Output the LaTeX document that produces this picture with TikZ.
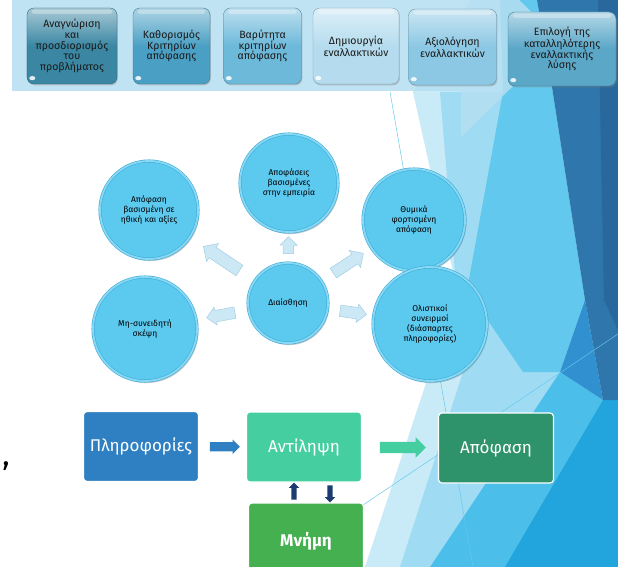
\documentclass[tikz,border=0pt]{standalone}
\usepackage{fontspec}
\setmainfont{Fira Sans}
\usetikzlibrary{shapes.arrows,shadows,calc}

\definecolor{fctlight}{HTML}{C9EBF8}
\definecolor{fctmid}{HTML}{9FDBF2}
\definecolor{fctcyan}{HTML}{62C8ED}
\definecolor{fctcyanb}{HTML}{4BBFE9}
\definecolor{fctbright}{HTML}{22A5DD}
\definecolor{fctblue}{HTML}{3190CF}
\definecolor{fctdark}{HTML}{2E76AB}
\definecolor{fctdarker}{HTML}{28689C}
\definecolor{bannerblue}{HTML}{B5DFF1}
\definecolor{stepA}{HTML}{3B87A3}
\definecolor{stepB}{HTML}{4AA0C4}
\definecolor{stepC}{HTML}{6CB9DA}
\definecolor{stepD}{HTML}{B5DCEE}
\definecolor{stepE}{HTML}{8CC8E4}
\definecolor{stepF}{HTML}{5AA7C8}
\definecolor{discfill}{HTML}{5CC9EF}
\definecolor{discring}{HTML}{88D8F3}
\definecolor{discedge}{HTML}{3FADD9}
\definecolor{arrowfill}{HTML}{CCE8F5}
\definecolor{arrowedge}{HTML}{9FCDE4}
\definecolor{infoblue}{HTML}{2F80C2}
\definecolor{percgreen}{HTML}{45CFA1}
\definecolor{decgreen}{HTML}{2E936B}
\definecolor{memgreen}{HTML}{45B04F}
\definecolor{memnavy}{HTML}{1C3B6E}

\tikzset{
  facetline/.style={fctcyan, line width=.4pt},
  stepbox/.style={rounded corners=6pt, draw=#1!70!black, line width=.3pt,
    top color=#1!45!white, bottom color=#1, middle color=#1,
    drop shadow={opacity=.35, shadow xshift=.8pt, shadow yshift=-1.2pt},
    path picture={
      \fill[white, opacity=.3, rounded corners=2pt] ([xshift=4pt,yshift=-1.5pt]path picture bounding box.north west) rectangle ([xshift=-4pt,yshift=-5pt]path picture bounding box.north east);
      \fill[white, opacity=.85] ([xshift=4.5pt,yshift=5pt]path picture bounding box.south west) ellipse (2.6pt and 1.8pt);},
    align=center, text=black!90, inner sep=2pt,
    font=\fontsize{9}{9.2}\selectfont, minimum height=2.28cm},
  disc/.style={circle, fill=discfill, draw=discedge, double=discring,
    double distance=1.6pt, line width=.5pt,
    drop shadow={opacity=.4, shadow xshift=1.2pt, shadow yshift=-1.8pt},
    align=center, text=black, inner sep=0pt,
    font=\fontsize{7.2}{8.6}\selectfont},
  cloudarrow/.style={single arrow, fill=arrowfill, draw=arrowedge, line width=.4pt,
    inner xsep=0pt, sloped, allow upside down, pos=.46},
  flowarrow/.style={single arrow, fill=#1, inner xsep=0pt},
  flowbox/.style={fill=#1, draw=white, line width=1pt, rounded corners=3pt,
    text=white, minimum width=3.45cm, minimum height=2.1cm,
    font=\fontsize{14.5}{17}\selectfont},
  memarrow/.style={single arrow, fill=memnavy, inner xsep=0pt, inner ysep=.075cm,
    sloped, allow upside down, minimum height=.51cm, single arrow head extend=.075cm}
}

\begin{document}
\begin{tikzpicture}[x=0.03cm, y=-0.03cm]
\useasboundingbox (0,0) rectangle (618,567);
\clip (0,0) rectangle (618,567);
\fill[white] (0,0) rectangle (618,567);

% facets of the slide background
\fill[fctlight] (413,92) -- (457,290) -- (365,567) -- (618,567) -- (618,0) -- (470,0) -- cycle;
\fill[fctmid] (440,92) -- (505,92) -- (560,372) -- (430,567) -- (400,567) -- (463,372) -- cycle;
\fill[fctcyan] (500,0) -- (537,0) -- (552,87) -- (585,300) -- (560,372) -- (523,372) -- (467,290) -- (503,92) -- cycle;
\fill[fctcyanb] (430,567) -- (560,372) -- (603,400) -- (618,410) -- (618,567) -- cycle;
\fill[fctbright] (505,567) -- (603,400) -- (618,390) -- (618,567) -- cycle;
\fill[fctblue] (560,372) -- (585,300) -- (603,400) -- cycle;
\fill[fctdark] (537,0) -- (618,0) -- (618,400) -- (603,400) -- (585,300) -- (552,87) -- cycle;
\fill[fctdarker] (598,0) -- (618,0) -- (618,330) -- (604,300) -- cycle;
\draw[facetline] (390,92) -- (473,567);
\draw[facetline] (363,505) -- (618,334);

% process banner
\fill[bannerblue, opacity=.85] (12,0) -- (461,0) -- (461,-57) -- (560,40) -- (461,137) -- (461,91) -- (12,91) -- cycle;

\node[stepbox=stepA, minimum width=2.7cm] (s1) at (72,46) {Αναγνώριση\\και\\προσδιορισμός\\του\\προβλήματος};
\node[stepbox=stepB, minimum width=2.31cm] (s2) at (171.5,46) {Καθορισμός\\Κριτηρίων\\απόφασης};
\node[stepbox=stepC, minimum width=2.34cm] (s3) at (262.5,46) {Βαρύτητα\\κριτηρίων\\απόφασης};
\node[stepbox=stepD, minimum width=2.58cm] (s4) at (356,46) {Δημιουργία\\εναλλακτικών};
\node[stepbox=stepE, minimum width=2.64cm] (s5) at (452.5,47) {Αξιολόγηση\\εναλλακτικών};
\node[stepbox=stepF, minimum width=3.24cm, minimum height=2.22cm] (s6) at (562,49) {Επιλογή της\\καταλληλότερης\\εναλλακτικής\\λύσης};

% intuition cluster
\node[disc, minimum size=2.94cm] (exp) at (289,183) {Αποφάσεις\\βασισμένες\\στην εμπειρία};
\node[disc, minimum size=2.94cm] (moral) at (149,210) {Απόφαση\\βασισμένη σε\\ηθική και αξίες};
\node[disc, minimum size=3.06cm] (emo) at (414,220) {Θυμικά\\φορτισμένη\\απόφαση};
\node[disc, minimum size=3.42cm] (hol) at (430,324) {Ολιστικοί\\συνειρμοί\\(διάσπαρτες\\πληροφορίες)};
\node[disc, minimum size=3.12cm] (uncon) at (145,329) {Μη-συνειδητή\\σκέψη};
\node[disc, minimum size=2.4cm] (dia) at (288,303) {Διαίσθηση};

\path (dia.center) -- node[cloudarrow, minimum height=.51cm, inner ysep=.15cm, single arrow head extend=.1cm] {} (exp.center);
\path (dia.center) -- node[cloudarrow, minimum height=1.3cm, inner ysep=.18cm, single arrow head extend=.14cm] {} (moral.center);
\path (dia.center) -- node[cloudarrow, minimum height=1.08cm, inner ysep=.165cm, single arrow head extend=.135cm] {} (emo.center);
\path (dia.center) -- node[cloudarrow, pos=.45, minimum height=.86cm, inner ysep=.165cm, single arrow head extend=.1cm] {} (uncon.center);
\path (dia.center) -- node[cloudarrow, pos=.44, minimum height=.8cm, inner ysep=.165cm, single arrow head extend=.105cm] {} (hol.center);

% information flow
\node[flowbox=infoblue] (info) at (141,446.5) {Πληροφορίες};
\node[flowbox=percgreen] (perc) at (304,447) {Αντίληψη};
\node[flowbox=decgreen] (dec) at (496,448) {Απόφαση};
\node[flowbox=memgreen, minimum height=2.31cm, font=\fontsize{14.5}{17}\selectfont\bfseries] (mem) at (306,541.5) {Μνήμη};

\path (info) -- node[flowarrow=infoblue, minimum height=.9cm, inner ysep=.135cm, single arrow head extend=.075cm] {} (perc);
\path (perc) -- node[flowarrow=percgreen, minimum height=1.38cm, inner ysep=.165cm, single arrow head extend=.135cm] {} (dec);
\path ([xshift=-.3cm]perc.south |- mem.north) -- node[memarrow] {} ([xshift=-.3cm]perc.south);
\path ([xshift=.78cm]perc.south) -- node[memarrow] {} ([xshift=.78cm]perc.south |- mem.north);

\node[font=\fontsize{26}{26}\selectfont] (comma) at (6,466) {,};

\end{tikzpicture}
\end{document}
